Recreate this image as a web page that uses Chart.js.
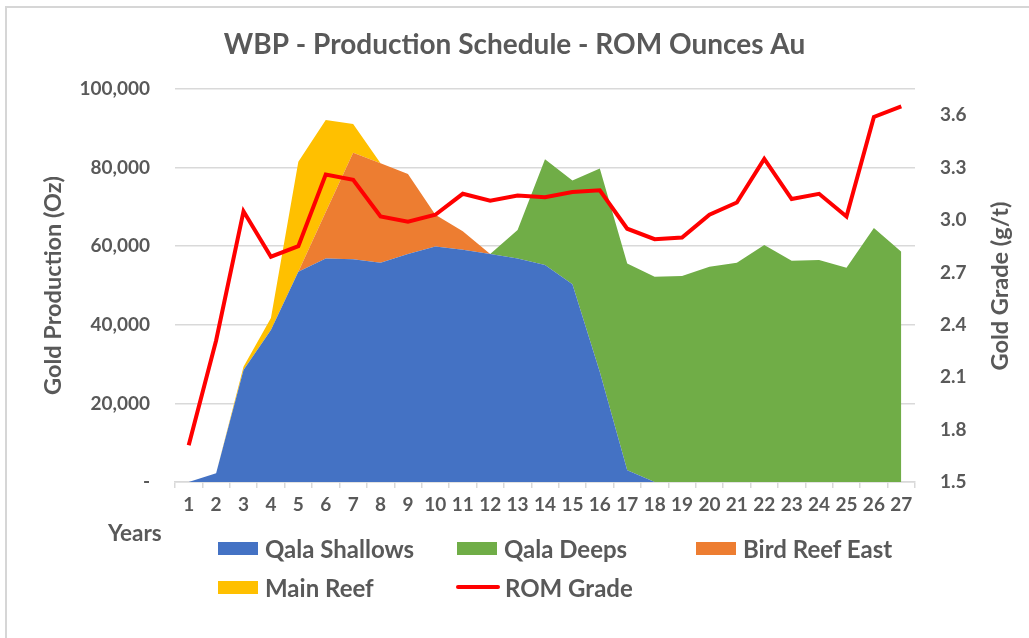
<!DOCTYPE html>
<html>
<head>
<meta charset="utf-8">
<script src="https://cdn.jsdelivr.net/npm/chart.js@4.4.1/dist/chart.umd.min.js"></script>
<style>
  html, body { margin: 0; padding: 0; background: #ffffff; }
  #wrap { position: relative; width: 1029px; height: 638px; overflow: hidden; font-family: Lato, "Open Sans", sans-serif; color: #595959; }
  #frame { position: absolute; left: 5px; top: 6px; right: -10px; bottom: -10px; border-top: 2px solid #d6d6d6; border-left: 2px solid #d6d6d6; pointer-events: none; }
  canvas { position: absolute; left: 0; top: 0; }
  .txt { position: absolute; font-weight: bold; white-space: nowrap; }
  #years { left: 108px; top: 519px; font-size: 22.5px; line-height: 28px; }
  #rtitle { left: 999px; top: 286px; font-size: 23.5px; transform: translate(-50%, -50%) rotate(-90deg); }
  .leg { position: absolute; display: flex; align-items: center; font-size: 24px; font-weight: bold; white-space: nowrap; height: 28px; }
  .sw { width: 40px; height: 13px; margin-right: 7px; }
  .ln { width: 44px; height: 4px; border-radius: 2px; margin-right: 5px; }
</style>
</head>
<body>
<div id="wrap">
  <canvas id="c" width="1029" height="638"></canvas>
  <div id="frame"></div>
  <div class="txt" id="years">Years</div>
  <div class="txt" id="rtitle">Gold Grade (g/t)</div>
  <div id="legend"></div>
</div>
<script>
// ---- data ----
const years = ["1","2","3","4","5","6","7","8","9","10","11","12","13","14","15","16","17","18","19","20","21","22","23","24","25","26","27"];
const qalaShallows = [0, 2200, 28500, 38700, 53500, 56900, 56700, 55800, 58000, 59900, 59100, 58000, 56900, 55200, 50300, 28000, 3000, 0, 0, 0, 0, 0, 0, 0, 0, 0, 0];
const qalaDeeps = [0, 0, 0, 0, 0, 0, 0, 0, 0, 0, 0, 0, 7200, 26900, 26400, 51800, 52600, 52200, 52400, 54800, 55800, 60300, 56300, 56500, 54500, 64600, 58600];
const birdReefEast = [0, 0, 0, 0, 0, 11800, 27100, 25300, 20400, 8100, 4700, 0, 0, 0, 0, 0, 0, 0, 0, 0, 0, 0, 0, 0, 0, 0, 0];
const mainReef = [0, 0, 800, 3000, 28000, 23400, 7300, 0, 0, 0, 0, 0, 0, 0, 0, 0, 0, 0, 0, 0, 0, 0, 0, 0, 0, 0, 0];
const romGrade = [1.71, 2.31, 3.05, 2.79, 2.85, 3.26, 3.23, 3.02, 2.99, 3.03, 3.15, 3.11, 3.14, 3.13, 3.16, 3.17, 2.95, 2.89, 2.90, 3.03, 3.10, 3.35, 3.12, 3.15, 3.02, 3.59, 3.65];
const leftTicks = [0, 20000, 40000, 60000, 80000, 100000];
const rightTicks = [1.5, 1.8, 2.1, 2.4, 2.7, 3.0, 3.3, 3.6];

const FONT = "Lato, 'Open Sans', sans-serif";
const GREY = "#595959";

const series = [
  { label: "Qala Shallows", data: qalaShallows, color: "#4472C4" },
  { label: "Qala Deeps", data: qalaDeeps, color: "#70AD47" },
  { label: "Bird Reef East", data: birdReefEast, color: "#ED7D31" },
  { label: "Main Reef", data: mainReef, color: "#FFC000" }
];

const datasets = series.map((s, i) => ({
  type: "line",
  label: s.label,
  data: s.data,
  yAxisID: "y",
  backgroundColor: s.color,
  borderColor: s.color,
  borderWidth: 0,
  pointRadius: 0,
  tension: 0,
  fill: i === 0 ? "origin" : "-1",
  order: 1
}));
datasets.push({
  type: "line",
  label: "ROM Grade",
  data: romGrade,
  yAxisID: "y1",
  borderColor: "#FF0000",
  backgroundColor: "#FF0000",
  borderWidth: 4,
  pointRadius: 0,
  tension: 0,
  fill: false,
  order: 0
});

new Chart(document.getElementById("c"), {
  type: "line",
  data: { labels: years, datasets },
  options: {
    responsive: false,
    animation: false,
    layout: { padding: { left: 0, right: 0, top: 0, bottom: 116 } },
    plugins: {
      legend: { display: false },
      tooltip: { enabled: false },
      title: {
        display: true,
        text: "WBP - Production Schedule - ROM Ounces Au",
        color: GREY,
        font: { family: FONT, size: 28, weight: "bold" },
        padding: { top: 28, bottom: 27.4 }
      }
    },
    scales: {
      x: {
        type: "category",
        offset: true,
        grid: { display: true, drawOnChartArea: false, offset: true, tickLength: 6, color: "#d9d9d9", lineWidth: 1.5 },
        border: { display: true, color: "#d9d9d9", width: 1.5 },
        ticks: { color: GREY, font: { family: FONT, size: 19, weight: "bold" }, padding: 5, maxRotation: 0, autoSkip: false },
        afterFit: (s) => { s.height = 40; }
      },
      y: {
        type: "linear",
        position: "left",
        stacked: true,
        min: 0,
        max: 100000,
        afterBuildTicks: (s) => { s.ticks = leftTicks.map(v => ({ value: v })); },
        grid: { color: "#d9d9d9", lineWidth: 1.5, drawTicks: false },
        border: { display: false },
        ticks: {
          color: GREY,
          font: { family: FONT, size: 19, weight: "bold" },
          padding: 25,
          callback: (v) => v === 0 ? "-" : v.toLocaleString("en-US")
        },
        title: {
          display: true,
          text: "Gold Production (Oz)",
          color: GREY,
          font: { family: FONT, size: 23.5, weight: "bold" },
          padding: { top: 39, bottom: 0 }
        },
        afterFit: (s) => { s.width = 175; }
      },
      y1: {
        type: "linear",
        position: "right",
        stacked: false,
        min: 1.5,
        max: 3.75,
        afterBuildTicks: (s) => { s.ticks = rightTicks.map(v => ({ value: v })); },
        grid: { display: false, drawOnChartArea: false, drawTicks: false },
        border: { display: false },
        ticks: {
          color: GREY,
          font: { family: FONT, size: 19, weight: "bold" },
          padding: 25,
          callback: (v) => Number(v).toFixed(1)
        },
        afterFit: (s) => { s.width = 114; }
      }
    }
  }
});

// ---- HTML legend ----
const legendItems = [
  { label: "Qala Shallows", color: "#4472C4", kind: "box", x: 218, y: 534 },
  { label: "Qala Deeps", color: "#70AD47", kind: "box", x: 457, y: 534 },
  { label: "Bird Reef East", color: "#ED7D31", kind: "box", x: 696, y: 534 },
  { label: "Main Reef", color: "#FFC000", kind: "box", x: 218, y: 573 },
  { label: "ROM Grade", color: "#FF0000", kind: "line", x: 456, y: 573 }
];
const lg = document.getElementById("legend");
legendItems.forEach(it => {
  const d = document.createElement("div");
  d.className = "leg";
  d.style.left = it.x + "px";
  d.style.top = it.y + "px";
  const sw = document.createElement("span");
  sw.className = it.kind === "box" ? "sw" : "ln";
  sw.style.background = it.color;
  const t = document.createElement("span");
  t.textContent = it.label;
  d.appendChild(sw);
  d.appendChild(t);
  lg.appendChild(d);
});
</script>
</body>
</html>
